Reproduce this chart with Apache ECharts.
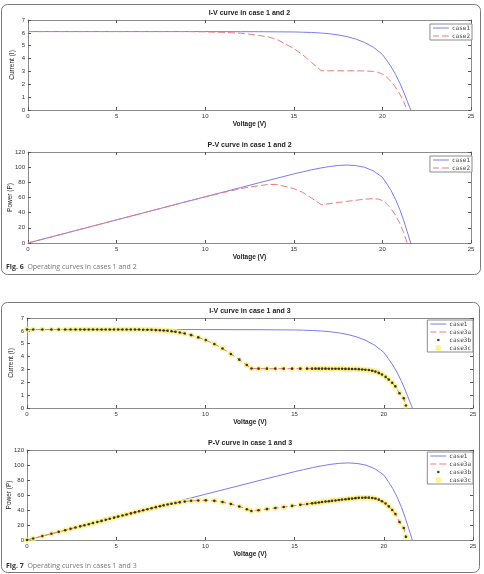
<!DOCTYPE html>
<html>
<head>
<meta charset="utf-8">
<script src="https://cdn.jsdelivr.net/npm/echarts/dist/echarts.min.js"></script>
<style>
html, body { margin: 0; padding: 0; background: #fff; }
#chart { width: 484px; height: 574px; }
</style>
</head>
<body>
<div id="chart"></div>
<script>
// case 1 - uniform irradiance
var case1V = [0, 5, 10, 12, 13, 14, 15, 15.5, 16, 16.5, 17, 17.5, 18, 18.5, 19, 19.5, 20, 20.25, 20.5, 20.75, 21, 21.2, 21.4, 21.6];
var case1I = [6.1, 6.1, 6.1, 6.09, 6.09, 6.08, 6.07, 6.05, 6.03, 5.99, 5.93, 5.84, 5.71, 5.52, 5.25, 4.87, 4.33, 3.85, 3.35, 2.75, 2.05, 1.4, 0.7, 0];
var case1P = [0, 30.5, 61, 73.1, 79.2, 85.1, 91.1, 93.8, 96.5, 98.8, 100.8, 102.2, 102.8, 102.1, 99.8, 95.0, 86.6, 78.0, 68.7, 57.1, 43.1, 29.7, 15.0, 0];

// case 2 - partial shading
var case2V = [0, 5, 9, 10, 11, 12, 12.5, 13, 13.5, 14, 14.5, 15, 15.5, 16, 16.3, 16.55, 17, 18, 19, 19.5, 19.8, 20.1, 20.4, 20.7, 21, 21.2, 21.4];
var case2I = [6.1, 6.1, 6.1, 6.08, 6.04, 5.97, 5.9, 5.8, 5.7, 5.52, 5.15, 4.78, 4.3, 3.7, 3.35, 3.06, 3.05, 3.05, 3.04, 3.0, 2.92, 2.72, 2.35, 1.85, 1.2, 0.65, 0];
var case2P = [0, 30.5, 54.9, 60.8, 66.4, 71.6, 73.8, 75.4, 77.0, 77.3, 74.7, 71.7, 66.7, 59.2, 54.6, 50.6, 51.9, 54.9, 57.8, 58.5, 57.8, 54.7, 47.9, 38.3, 25.2, 13.8, 0];

// case 3 (a, b, c share the same sampled points)
var case3V = [0, 0.35, 0.86, 1.37, 1.78, 2.14, 2.44, 2.72, 2.98, 3.22, 3.46, 3.70, 3.94, 4.18, 4.41, 4.64, 4.88, 5.11, 5.35, 5.58, 5.82, 6.05,
    6.28, 6.51, 6.75, 6.98, 7.22, 7.45, 7.66, 7.88, 8.10, 8.32, 8.56, 8.84, 9.20, 9.60, 10.02, 10.50, 10.96, 11.43, 11.90, 12.32, 12.58,
    12.98, 13.45, 13.92, 14.39, 14.86, 15.32, 15.70, 15.98, 16.17, 16.36, 16.54, 16.73, 16.92, 17.10, 17.29, 17.48, 17.66, 17.85, 18.04,
    18.22, 18.41, 18.60, 18.79, 18.97, 19.16, 19.35, 19.53, 19.72, 19.90, 20.10, 20.28, 20.47, 20.65, 20.88, 21.12, 21.24];
var case3I = [6.1, 6.1, 6.1, 6.1, 6.1, 6.1, 6.1, 6.1, 6.1, 6.1, 6.1, 6.1, 6.1, 6.1, 6.1, 6.1, 6.1, 6.1, 6.1, 6.1, 6.1, 6.1,
    6.10, 6.09, 6.09, 6.08, 6.06, 6.05, 6.03, 6.01, 5.97, 5.93, 5.87, 5.79, 5.67, 5.49, 5.28, 4.97, 4.63, 4.20, 3.76, 3.34, 3.07,
    3.06, 3.06, 3.06, 3.06, 3.06, 3.06, 3.06, 3.06, 3.06, 3.06, 3.06, 3.06, 3.05, 3.05, 3.05, 3.05, 3.05, 3.04, 3.04,
    3.03, 3.03, 3.02, 3.00, 2.98, 2.95, 2.90, 2.83, 2.73, 2.60, 2.42, 2.21, 1.96, 1.68, 1.15, 0.76, 0.20];
var case3P = [0, 2.1, 5.2, 8.4, 10.9, 13.1, 14.9, 16.6, 18.2, 19.6, 21.1, 22.6, 24.0, 25.5, 26.9, 28.3, 29.8, 31.2, 32.6, 34.0, 35.5, 36.9,
    38.3, 39.6, 41.1, 42.4, 43.8, 45.1, 46.2, 47.4, 48.4, 49.3, 50.2, 51.2, 52.2, 52.7, 52.9, 52.2, 50.7, 48.0, 44.7, 41.1, 38.6,
    39.7, 41.2, 42.6, 44.0, 45.5, 46.9, 48.0, 48.9, 49.5, 50.1, 50.6, 51.2, 51.6, 52.2, 52.7, 53.3, 53.9, 54.3, 54.8,
    55.2, 55.8, 56.2, 56.4, 56.5, 56.5, 56.1, 55.3, 53.8, 51.7, 48.6, 44.8, 40.1, 34.7, 24.0, 16.1, 4.2];

var xTicks = { min: 0, max: 25, interval: 5 };
var iTicks = { min: 0, max: 7, interval: 1 };
var pTicks = { min: 0, max: 120, interval: 20 };

var titles = ["I-V curve in case 1 and 2", "P-V curve in case 1 and 2", "I-V curve in case 1 and 3", "P-V curve in case 1 and 3"];

var blue = "#7b7bee";
var red = "#f07c7c";
var frame = "#8c8c8c";
var font = "Liberation Sans";

// legend glyphs (MATLAB style samples)
var solidIcon = "path://M0,0H16V1H0Z";
var dashIcon = "path://M0,0H6V1H0Z M9,0H16V1H9Z";
var dotIcon = "path://M0,0M6,6M3,1.7A1.3,1.3,0,1,1,3,4.3A1.3,1.3,0,1,1,3,1.7Z";

function pairs(xs, ys) {
    return xs.map(function (x, k) { return [x, ys[k]]; });
}

var grids = [
    { left: 28, top: 20, width: 443, height: 90 },
    { left: 28, top: 152, width: 443, height: 91 },
    { left: 27, top: 318, width: 446, height: 90 },
    { left: 27, top: 450, width: 446, height: 90 }
];
grids.forEach(function (g) { g.outerBoundsMode = "none"; g.containLabel = false; });
var titleTops = [9.5, 141.5, 307.5, 439.5];

var xAxes = [], yAxes = [], series = [], titleList = [], legends = [];

grids.forEach(function (g, gi) {
    var isIV = gi % 2 === 0;
    var yt = isIV ? iTicks : pTicks;
    // bottom + top x axes
    xAxes.push({
        type: "value", gridIndex: gi, position: "bottom",
        min: xTicks.min, max: xTicks.max, interval: xTicks.interval,
        axisLine: { show: true, onZero: false, lineStyle: { color: frame, width: 1 } },
        axisTick: { inside: true, length: 3, lineStyle: { color: "#555" } },
        axisLabel: { fontSize: 6, color: "#333", margin: 3, fontFamily: font },
        splitLine: { show: false },
        name: "Voltage (V)", nameLocation: "middle", nameGap: 11, nameMoveOverlap: false,
        nameTextStyle: { fontSize: 6.5, fontWeight: "bold", color: "#222", fontFamily: font }
    });
    xAxes.push({
        type: "value", gridIndex: gi, position: "top",
        min: xTicks.min, max: xTicks.max, interval: xTicks.interval,
        axisLine: { show: true, onZero: false, lineStyle: { color: frame, width: 1 } },
        axisTick: { inside: true, length: 3, lineStyle: { color: "#555" } },
        axisLabel: { show: false },
        splitLine: { show: false }
    });
    // left + right y axes
    yAxes.push({
        type: "value", gridIndex: gi, position: "left",
        min: yt.min, max: yt.max, interval: yt.interval,
        axisLine: { show: true, onZero: false, lineStyle: { color: frame, width: 1 } },
        axisTick: { inside: true, length: 3, lineStyle: { color: "#555" } },
        axisLabel: { fontSize: 6, color: "#333", margin: 3, fontFamily: font },
        splitLine: { show: false },
        name: isIV ? "Current (I)" : "Power (P)", nameLocation: "middle",
        nameGap: isIV ? 12 : 14.5, nameMoveOverlap: false,
        nameTextStyle: { fontSize: 6.5, color: "#222", fontFamily: font }
    });
    yAxes.push({
        type: "value", gridIndex: gi, position: "right",
        min: yt.min, max: yt.max, interval: yt.interval,
        axisLine: { show: true, onZero: false, lineStyle: { color: frame, width: 1 } },
        axisTick: { inside: true, length: 3, lineStyle: { color: "#555" } },
        axisLabel: { show: false },
        splitLine: { show: false }
    });

    titleList.push({
        text: titles[gi], left: g.left + g.width / 2, top: titleTops[gi], textAlign: "center", padding: 0,
        textStyle: { fontSize: 7, fontWeight: "bold", color: "#222", fontFamily: font }
    });

    var ax = gi * 2;
    series.push({
        name: "case1", type: "line", xAxisIndex: ax, yAxisIndex: ax, symbol: "none", z: 2,
        lineStyle: { color: blue, width: 1 }, itemStyle: { color: blue },
        data: pairs(case1V, isIV ? case1I : case1P)
    });
    if (gi < 2) {
        series.push({
            name: "case2", type: "line", xAxisIndex: ax, yAxisIndex: ax, symbol: "none", z: 3,
            lineStyle: { color: red, width: 1, type: [7, 3] }, itemStyle: { color: red },
            data: pairs(case2V, isIV ? case2I : case2P)
        });
        legends.push({
            data: [
                { name: "case1", icon: solidIcon, itemStyle: { color: blue } },
                { name: "case2", icon: dashIcon, itemStyle: { color: red } }
            ],
            right: 12, top: g.top + 4
        });
    } else {
        var ys = isIV ? case3I : case3P;
        series.push({
            name: "case3a", type: "line", xAxisIndex: ax, yAxisIndex: ax, symbol: "none", z: 4,
            lineStyle: { color: red, width: 1, type: [6, 3] }, itemStyle: { color: red },
            data: pairs(case3V, ys)
        });
        series.push({
            name: "case3b", type: "scatter", xAxisIndex: ax, yAxisIndex: ax, symbolSize: 2.6, z: 5,
            itemStyle: { color: "#111" },
            data: pairs(case3V, ys)
        });
        series.push({
            name: "case3c", type: "scatter", xAxisIndex: ax, yAxisIndex: ax, symbolSize: 6, z: 3,
            itemStyle: { color: "#f8f47c" },
            data: pairs(case3V, ys)
        });
        legends.push({
            data: [
                { name: "case1", icon: solidIcon, itemStyle: { color: blue } },
                { name: "case3a", icon: dashIcon, itemStyle: { color: red } },
                { name: "case3b", icon: dotIcon, itemStyle: { color: "#111" } },
                { name: "case3c", icon: "circle", itemStyle: { color: "#f8f47c" } }
            ],
            right: 11, top: g.top + 2
        });
    }
});

legends.forEach(function (l) {
    l.orient = "vertical";
    l.align = "left";
    l.itemWidth = 16;
    l.itemHeight = 6;
    l.itemGap = 2;
    l.padding = [1, 2, 1, 3];
    l.backgroundColor = "#fff";
    l.borderColor = "#8c8c8c";
    l.borderWidth = 1;
    l.borderRadius = 0;
    l.selectedMode = false;
    l.textStyle = { fontSize: 6, color: "#444", fontFamily: "DejaVu Sans Mono", padding: [0, 0, 0, -2] };
});

var captionFont = "Open Sans";
var chart = echarts.init(document.getElementById("chart"));
chart.setOption({
    animation: false,
    backgroundColor: "#fff",
    title: titleList,
    grid: grids,
    xAxis: xAxes,
    yAxis: yAxes,
    legend: legends,
    series: series,
    graphic: [
        { type: "rect", shape: { x: 1.5, y: 4.5, width: 479, height: 270, r: 6 },
          style: { fill: "none", stroke: "#7a7a7a", lineWidth: 1 }, silent: true },
        { type: "rect", shape: { x: 1.5, y: 302.5, width: 478, height: 270, r: 6 },
          style: { fill: "none", stroke: "#7a7a7a", lineWidth: 1 }, silent: true },
        { type: "text", left: 6, top: 263,
          style: { text: "{b|Fig. 6}  Operating curves in cases 1 and 2", fill: "#777", font: "7px " + captionFont,
                   rich: { b: { fontWeight: "bold", fill: "#333", fontSize: 7, fontFamily: captionFont } } } },
        { type: "text", left: 6, top: 562,
          style: { text: "{b|Fig. 7}  Operating curves in cases 1 and 3", fill: "#777", font: "7px " + captionFont,
                   rich: { b: { fontWeight: "bold", fill: "#333", fontSize: 7, fontFamily: captionFont } } } }
    ]
});
</script>
</body>
</html>
